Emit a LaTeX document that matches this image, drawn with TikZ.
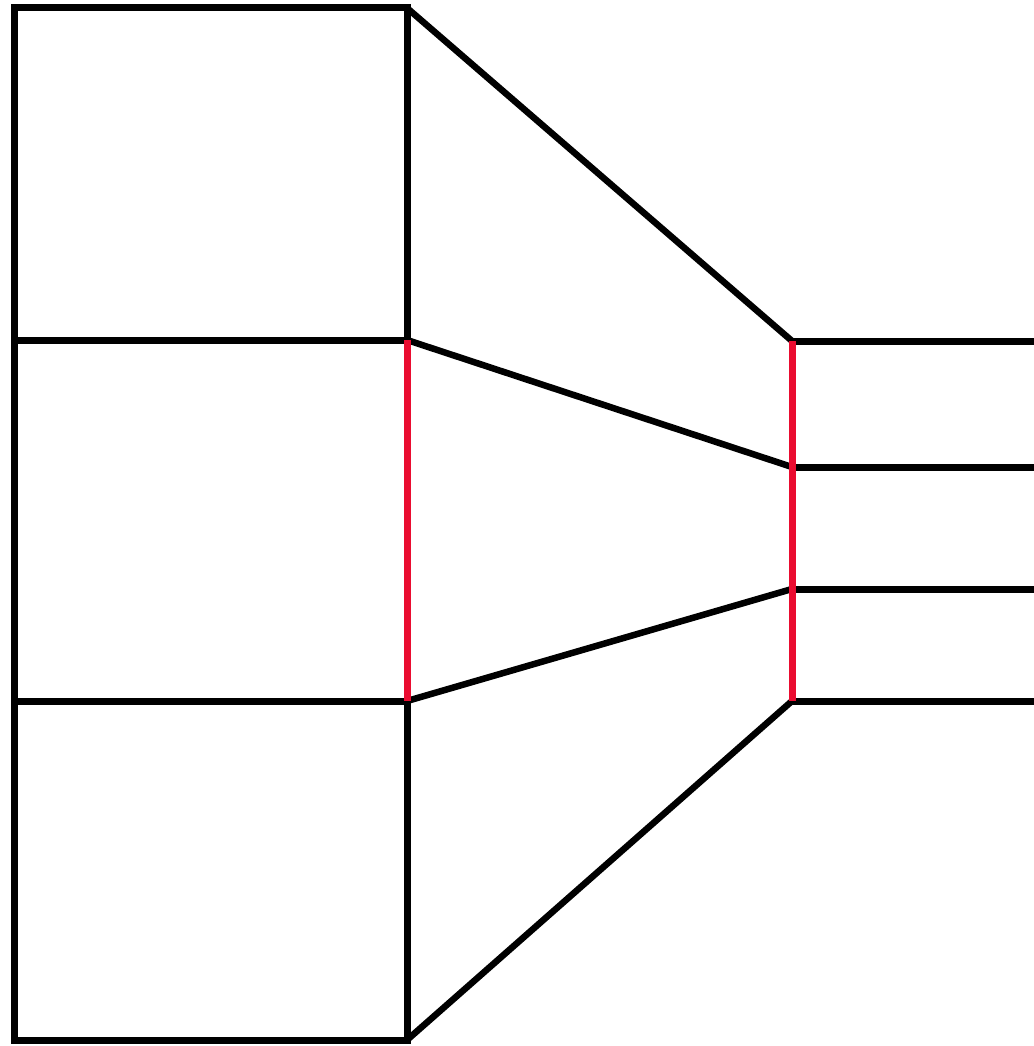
\documentclass[tikz,border=0pt]{standalone}
\definecolor{segred}{RGB}{234,12,48}
\begin{document}
\begin{tikzpicture}[x=1pt,y=-1pt,
  blk/.style={line width=7pt,draw=black,line join=miter},
  slant/.style={line width=6.5pt,draw=black},
  redseg/.style={line width=7pt,draw=segred}]
\useasboundingbox (0,0) rectangle (1033,1046);
\coordinate (A) at (14,8);
\coordinate (B) at (407,8);
\coordinate (C) at (14,340);
\coordinate (D) at (407,340);
\coordinate (E) at (14,701);
\coordinate (F) at (407,701);
\coordinate (G) at (14,1040);
\coordinate (H) at (407,1040);
\coordinate (P) at (792,341);
\coordinate (Q) at (792,467);
\coordinate (R) at (792,589);
\coordinate (S) at (792,701);
\coordinate (P2) at (1036,341);
\coordinate (Q2) at (1036,467);
\coordinate (R2) at (1036,589);
\coordinate (S2) at (1036,701);
% left block
\draw[blk] (A) rectangle (H);
\draw[blk] (C) -- (D);
\draw[blk] (E) -- (F);
% slanted connectors
\draw[slant] (B) -- (P);
\draw[slant] (D) -- (Q);
\draw[slant] (F) -- (R);
\draw[slant] (H) -- (S);
% right block
\draw[blk] (P) -- (P2);
\draw[blk] (Q) -- (Q2);
\draw[blk] (R) -- (R2);
\draw[blk] (S) -- (S2);
% red segments
\draw[redseg] (D) -- (F);
\draw[redseg] (P) -- (S);
\end{tikzpicture}
\end{document}
